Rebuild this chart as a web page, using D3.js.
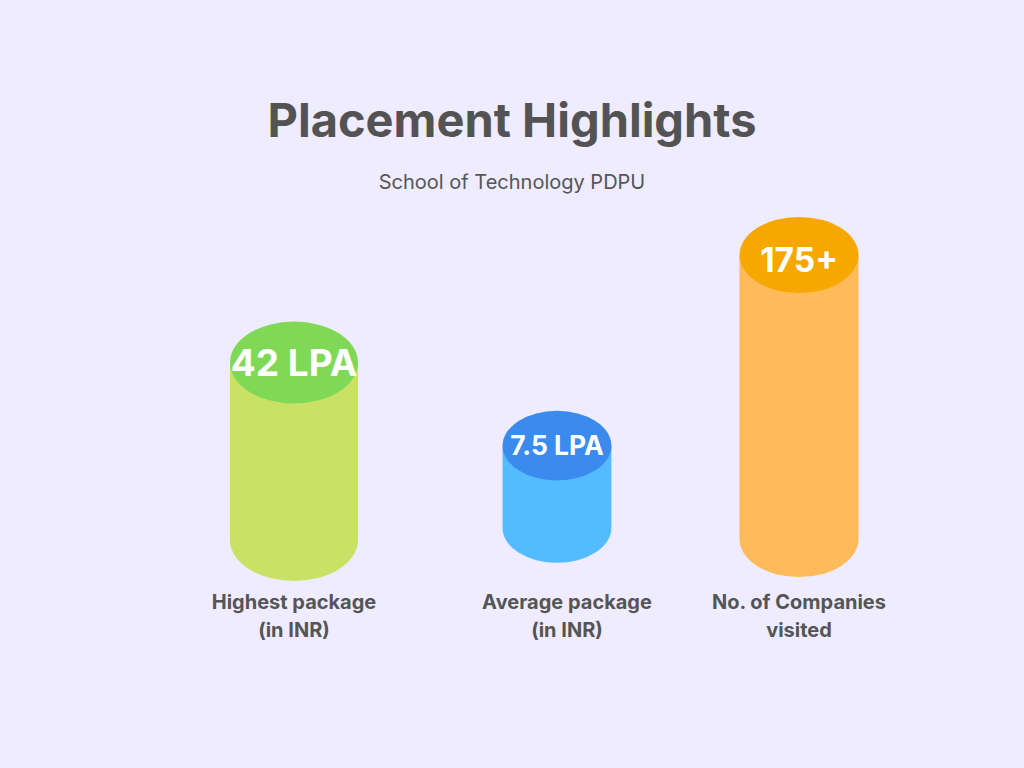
<!DOCTYPE html>
<html>
<head>
<meta charset="utf-8">
<script src="https://cdn.jsdelivr.net/npm/d3@7"></script>
<style>
  html, body { margin: 0; padding: 0; background: #eeecfe; }
  svg { display: block; }
</style>
</head>
<body>
<svg id="chart" width="1024" height="768"></svg>
<script>
// ---- data ----
const categories = ["Highest package", "Average package", "No. of Companies"];
const categoryLine2 = ["(in INR)", "(in INR)", "visited"];
const valueLabels = ["42 LPA", "7.5 LPA", "175+"];
const values = [42, 7.5, 175];
// relative visual size of each cylinder (tallest = 1)
const relHeight = [0.625, 0.29, 1.0];
const relWidth = [1.0, 0.85, 0.93];
const title = "Placement Highlights";
const subtitle = "School of Technology PDPU";

// ---- styles / layout ----
const bodyColors = ["#c9e266", "#55bbff", "#ffbb5a"];
const topColors = ["#7fd957", "#3b8bee", "#f7a800"];
const valueFontSizes = [37, 26.5, 33.5];
const valueDy = [0.36, 0.36, 0.5];
const W = 1024, H = 768;
const svg = d3.select("#chart");

svg.append("rect").attr("width", W).attr("height", H).attr("fill", "#eeecfe");

svg.append("text").attr("x", 512).attr("y", 137)
  .attr("text-anchor", "middle")
  .style("font-family", "Inter, 'Open Sans', sans-serif")
  .style("font-weight", 700).style("font-size", "47px")
  .attr("fill", "#535353").text(title);

svg.append("text").attr("x", 512).attr("y", 189)
  .attr("text-anchor", "middle")
  .style("font-family", "Inter, 'Open Sans', sans-serif")
  .style("font-weight", 400).style("font-size", "20px")
  .attr("fill", "#555555").text(subtitle);

const idx = categories.map((d, i) => i);
const xCenter = d3.scaleLinear().domain([0, 1, 2]).range([294, 557, 799]);
const labelX = d3.scaleLinear().domain([0, 1, 2]).range([294, 567, 799]);
const hScale = d3.scaleLinear().domain([0, 1]).range([0, 284]);
const rxScale = d3.scaleLinear().domain([0, 1]).range([0, 64]);
const bottomY = [540, 528, 539];
const ryRatio = 0.64;

const g = svg.selectAll("g.cyl").data(idx).join("g").attr("class", "cyl");

g.each(function(i) {
  const sel = d3.select(this);
  const cx = xCenter(i);
  const rx = rxScale(relWidth[i]);
  const ry = rx * ryRatio;
  const yb = bottomY[i];
  const yt = yb - hScale(relHeight[i]);
  const p = `M${cx - rx},${yt} L${cx - rx},${yb} A${rx},${ry} 0 0 0 ${cx + rx},${yb} L${cx + rx},${yt} Z`;
  sel.append("path").attr("d", p).attr("fill", bodyColors[i]);
  sel.append("ellipse").attr("cx", cx).attr("cy", yt).attr("rx", rx).attr("ry", ry)
    .attr("fill", topColors[i]);
  sel.append("text").attr("x", cx).attr("y", yt + valueFontSizes[i] * valueDy[i])
    .attr("text-anchor", "middle")
    .style("font-family", "Inter, 'Open Sans', sans-serif")
    .style("font-weight", 700).style("font-size", valueFontSizes[i] + "px")
    .attr("fill", "#ffffff").text(valueLabels[i]);
  const lx = labelX(i);
  sel.append("text").attr("x", lx).attr("y", 609)
    .attr("text-anchor", "middle")
    .style("font-family", "Inter, 'Open Sans', sans-serif")
    .style("font-weight", 700).style("font-size", "20px")
    .attr("fill", "#555555").text(categories[i]);
  sel.append("text").attr("x", lx).attr("y", 637)
    .attr("text-anchor", "middle")
    .style("font-family", "Inter, 'Open Sans', sans-serif")
    .style("font-weight", 700).style("font-size", "20px")
    .attr("fill", "#555555").text(categoryLine2[i]);
});
</script>
</body>
</html>
